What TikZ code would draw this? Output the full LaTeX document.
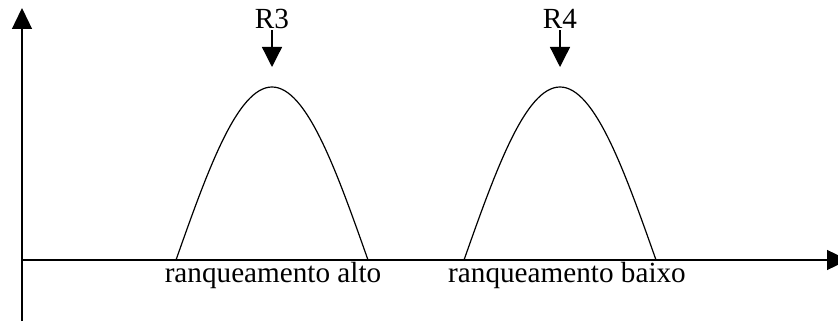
\documentclass[tikz,border=0pt]{standalone}
\usepackage{fontspec}
\setmainfont{Liberation Serif}
\usetikzlibrary{arrows.meta}
\tikzset{
	axis/.style={line width=0.65pt,-{Triangle[width=10pt,length=10.5pt]}},
	rank/.style={line width=0.65pt,-{Triangle[width=10pt,length=10pt]}},
	bell/.style={line width=0.6pt},
	lbl/.style={inner sep=0.5pt}
}
\begin{document}
\begin{tikzpicture}[x=0.5pt,y=0.5pt,font=\fontsize{14.6}{17}\selectfont]
	\useasboundingbox (0,0) rectangle (838,326);
	% axes
	\coordinate (o) at (22,66);
	\coordinate (ybot) at (22,5);
	\coordinate (ytop) at (22,318);
	\coordinate (xend) at (848,66);
	\draw[axis] (ybot) -- (ytop);
	\draw[axis] (o) -- (xend);
	% curves
	\draw[bell] (176,66) sin (272,239) cos (368,66);
	\draw[bell] (464,66) sin (560,239) cos (656,66);
	% peaks
	\node[lbl] (r3) at (272,307) {R3};
	\node[lbl] (r4) at (560,307) {R4};
	\coordinate (p3) at (272,259);
	\coordinate (p4) at (560,259);
	\draw[rank] (r3.south) -- (p3);
	\draw[rank] (r4.south) -- (p4);
	% labels
	\node[lbl,anchor=base] (alto) at (273,44) {ranqueamento alto};
	\node[lbl,anchor=base] (baixo) at (567,44) {ranqueamento baixo};
\end{tikzpicture}
\end{document}
